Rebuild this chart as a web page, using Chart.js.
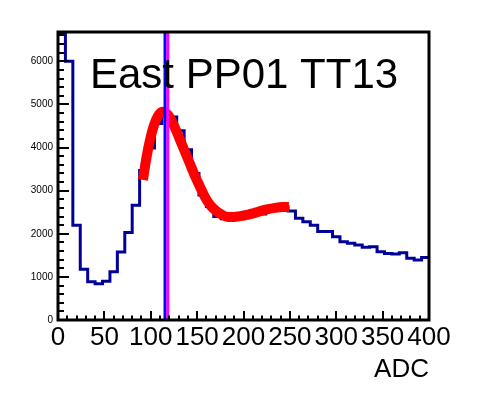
<!DOCTYPE html>
<html>
<head>
<meta charset="utf-8">
<script src="https://cdn.jsdelivr.net/npm/chart.js@4.4.1/dist/chart.umd.min.js"></script>
<style>
html,body{margin:0;padding:0;background:#fff;}
canvas{display:block;}
</style>
</head>
<body>
<canvas id="c" width="477" height="399"></canvas>
<script>
// ---- data ----
const binWidth = 8;               // ADC units per histogram bin
const binCounts = [
  6650, 6000, 2200, 1180, 890, 840, 900, 1120, 1580, 2030,
  2660, 3470, 3990, 4560, 4730, 4710, 4390, 3950, 3400, 2900,
  2630, 2400, 2350, 2350, 2400, 2480, 2480, 2460, 2560, 2620,
  2620, 2530, 2360, 2280, 2200, 2050, 2050, 1930, 1815, 1780,
  1740, 1685, 1700, 1585, 1545, 1530, 1560, 1430, 1390, 1450
];
const fitAdc = [91.6, 94.9, 99.2, 103.5, 107.8, 112.1, 116.4, 120.8, 126.1, 131.5,
  136.9, 142.3, 147.7, 153.1, 158.5, 163.9, 170.4, 176.8, 183.3, 189.8,
  196.2, 203.8, 211.4, 218.9, 226.4, 234.0, 241.5, 249.0];
const fitCounts = [3250, 3710, 4180, 4520, 4730, 4830, 4800, 4690, 4460, 4180,
  3900, 3620, 3340, 3090, 2850, 2670, 2530, 2440, 2390, 2390,
  2410, 2440, 2480, 2530, 2570, 2600, 2620, 2620];
const markerAdc = [115.4, 118.4];   // blue, magenta vertical markers
const xTickValues = [0, 50, 100, 150, 200, 250, 300, 350, 400];
const yTickValues = [0, 1000, 2000, 3000, 4000, 5000, 6000];
const xRange = [0, 400];
const yRange = [0, 6680];
const xMinorStep = 10;
const yMinorStep = 200;
const titleText = 'East PP01 TT13';
const xTitle = 'ADC';

// ---- build datasets ----
const histPoints = binCounts.map((v, i) => ({x: i * binWidth, y: v}));
histPoints.push({x: binCounts.length * binWidth, y: binCounts[binCounts.length - 1]});
const fitPoints = fitAdc.map((a, i) => ({x: a, y: fitCounts[i]}));
const markerPoints = markerAdc.map(a => [{x: a, y: yRange[0]}, {x: a, y: yRange[1]}]);

const FONT = '"Liberation Sans", Arial, sans-serif';

const frameTicks = {
  id: 'frameTicks',
  afterDatasetsDraw(chart) {
    const {ctx, chartArea: a, scales: {x, y}} = chart;
    ctx.save();
    ctx.strokeStyle = '#000';
    ctx.lineWidth = 2;
    ctx.beginPath();
    for (let v = xRange[0]; v <= xRange[1] + 1e-9; v += xMinorStep) {
      const px = Math.round(x.getPixelForValue(v));
      const len = (v % 50 === 0) ? 9 : 4.5;
      ctx.moveTo(px, a.bottom);
      ctx.lineTo(px, a.bottom - len);
    }
    for (let v = yRange[0]; v <= yRange[1]; v += yMinorStep) {
      const py = Math.round(y.getPixelForValue(v));
      const len = (v % 1000 === 0) ? 11 : 6;
      ctx.moveTo(a.left, py);
      ctx.lineTo(a.left + len, py);
    }
    ctx.stroke();
    ctx.lineWidth = 3;
    ctx.strokeRect(a.left, a.top, a.right - a.left, a.bottom - a.top);
    ctx.fillStyle = '#000';
    ctx.font = '42px ' + FONT;
    ctx.textBaseline = 'alphabetic';
    ctx.textAlign = 'left';
    ctx.fillText(titleText, 90, 88);
    ctx.restore();
  }
};

new Chart(document.getElementById('c'), {
  type: 'line',
  data: {
    datasets: [
      {data: markerPoints[1], borderColor: '#ff00ff', borderWidth: 3, pointRadius: 0, fill: false},
      {data: markerPoints[0], borderColor: '#0000ff', borderWidth: 3, pointRadius: 0, fill: false},
      {data: fitPoints, borderColor: '#ff0000', borderWidth: 10, pointRadius: 0, fill: false,
       cubicInterpolationMode: 'monotone', borderCapStyle: 'butt'},
      {data: histPoints, borderColor: '#000099', borderWidth: 3, pointRadius: 0, fill: false,
       stepped: 'before', borderJoinStyle: 'miter'}
    ]
  },
  options: {
    responsive: false,
    animation: false,
    events: [],
    layout: {padding: {top: 32, right: 48, left: 0, bottom: 0}},
    plugins: {legend: {display: false}, tooltip: {enabled: false}, title: {display: false}},
    scales: {
      x: {
        type: 'linear', min: xRange[0], max: xRange[1],
        grid: {display: false, drawTicks: false}, border: {display: false},
        afterBuildTicks: s => { s.ticks = xTickValues.map(v => ({value: v})); },
        afterFit: s => { s.height = 79; },
        ticks: {autoSkip: false, maxRotation: 0, minRotation: 0, padding: 2, color: '#000',
          font: {family: FONT, size: 26}, callback: v => String(v)},
        title: {display: true, text: xTitle, align: 'end', color: '#000',
          font: {family: FONT, size: 26}, padding: {top: 0, bottom: 14}}
      },
      y: {
        type: 'linear', min: yRange[0], max: yRange[1],
        grid: {display: false, drawTicks: false}, border: {display: false},
        afterBuildTicks: s => { s.ticks = yTickValues.map(v => ({value: v})); },
        afterFit: s => { s.width = 58; },
        ticks: {autoSkip: false, padding: 5, color: '#000',
          font: {family: FONT, size: 10}, callback: v => String(v)}
      }
    }
  },
  plugins: [frameTicks]
});
</script>
</body>
</html>
